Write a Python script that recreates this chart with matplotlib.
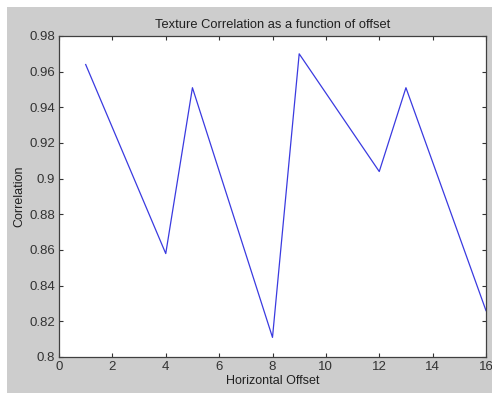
import matplotlib
matplotlib.use("Agg")
import matplotlib.pyplot as plt
from matplotlib.patches import Rectangle

offsets = [1, 4, 5, 8, 9, 12, 13, 16]
correlation = [0.964, 0.858, 0.951, 0.811, 0.970, 0.904, 0.951, 0.826]
xticks = [0, 2, 4, 6, 8, 10, 12, 14, 16]
yticks = [0.8, 0.82, 0.84, 0.86, 0.88, 0.9, 0.92, 0.94, 0.96, 0.98]
ytick_labels = ["0.8", "0.82", "0.84", "0.86", "0.88", "0.9", "0.92", "0.94", "0.96", "0.98"]

plt.rcParams['font.family'] = ['Liberation Sans', 'DejaVu Sans']

fig = plt.figure(figsize=(4.92, 3.93), dpi=100, facecolor='white')
bg = Rectangle((7/492, 0), 1 - 7/492, 1 - 7/393,
               transform=fig.transFigure, facecolor='#cdcdcd',
               edgecolor='none', zorder=-10)
fig.add_artist(bg)

ax = fig.add_axes([59/492, 1 - 357/393, (486 - 59)/492, (357 - 36)/393])
ax.set_zorder(5)
ax.set_facecolor('white')
ax.plot(offsets, correlation, color='#3a3ae0', linewidth=0.9)

ax.set_xlim(0, 16)
ax.set_ylim(0.8, 0.98)
ax.set_xticks(xticks)
ax.set_xticklabels([str(t) for t in xticks])
ax.set_yticks(yticks)
ax.set_yticklabels(ytick_labels)
ax.tick_params(direction='in', top=True, right=True, length=3, width=0.8,
               labelsize=9.5, colors='#333333', pad=3)
for s in ax.spines.values():
    s.set_color('#404040')
    s.set_linewidth(0.9)

ax.set_title("Texture Correlation as a function of offset", fontsize=9.3, color='#202020', pad=6)
ax.set_xlabel("Horizontal Offset", fontsize=9, color='#202020', labelpad=1)
ax.set_ylabel("Correlation", fontsize=9, color='#202020', labelpad=3)

fig.savefig("out.png", dpi=100, facecolor=fig.get_facecolor())
